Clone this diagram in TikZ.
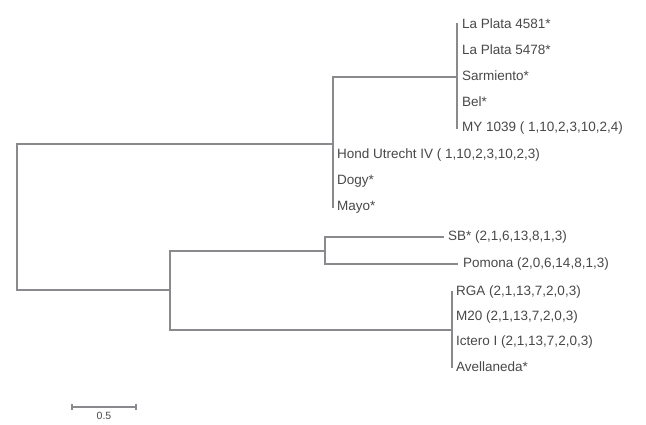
\documentclass[tikz,border=0pt]{standalone}
\usepackage{fontspec}
\setmainfont{Liberation Sans}
\usetikzlibrary{positioning,calc}

\definecolor{branchgray}{HTML}{8A8A8E}
\definecolor{labelgray}{HTML}{484848}

\tikzset{
  branch/.style={draw=branchgray, line width=2.4pt, line cap=rect},
  leaf/.style={inner sep=0pt, text=labelgray, font=\fontsize{13.5}{14}\selectfont, anchor=west},
}

\begin{document}
\begin{tikzpicture}[x=1pt, y=-1pt, node distance=26pt]
\useasboundingbox (0,0) rectangle (646,425);

					% inner nodes
					\coordinate (R) at (17,217);
					\coordinate (A) at (333,144);
					\coordinate (B) at (457,77);
					\coordinate (C) at (170,290);
					\coordinate (D) at (325,251);
					\coordinate (E) at (452,330);

					% tips
					\coordinate (t1) at (457,24);
					\coordinate[below = of t1] (t2);
					\coordinate[below = of t2] (t3);
					\coordinate[below = of t3] (t4);
					\coordinate[below = of t4] (t5);
					\coordinate (t6) at (333,155);
					\coordinate[below = of t6] (t7);
					\coordinate[below = of t7] (t8);
					\coordinate (t9) at (443,237);
					\coordinate (t10) at (457,264);
					\coordinate (t11) at (452,292);
					\coordinate[below = 25pt of t11] (t12);
					\coordinate[below = 25pt of t12] (t13);
					\coordinate[below = 25pt of t13] (t14);

					% labels
					\node[leaf] (lp4581) [right = 5pt of t1] {La Plata 4581*};
					\node[leaf] (lp5478) [right = 5pt of t2] {La Plata 5478*};
					\node[leaf] (sarm) [right = 5pt of t3] {Sarmiento*};
					\node[leaf] (bel) [right = 5pt of t4] {Bel*};
					\node[leaf] (my1039) [right = 5pt of t5] {MY 1039 ( 1,10,2,3,10,2,4)};
					\node[leaf] (hond) [right = 4pt of t6] {Hond Utrecht IV ( 1,10,2,3,10,2,3)};
					\node[leaf] (dogy) [right = 4pt of t7] {Dogy*};
					\node[leaf] (mayo) [right = 4pt of t8] {Mayo*};
					\node[leaf] (sb) [right = 5pt of t9] {SB* (2,1,6,13,8,1,3)};
					\node[leaf] (pomona) [right = 6pt of t10] {Pomona (2,0,6,14,8,1,3)};
					\node[leaf] (rga) [right = 4pt of t11] {RGA (2,1,13,7,2,0,3)};
					\node[leaf] (m20) [right = 4pt of t12] {M20 (2,1,13,7,2,0,3)};
					\node[leaf] (ictero) [right = 4pt of t13] {Ictero I (2,1,13,7,2,0,3)};
					\node[leaf] (avell) [right = 4pt of t14] {Avellaneda*};

					% branches
					\path[branch]
					(A) -| (R) |- (C)
					(B -| A) -- (t8)
					(B -| A) -- (B)
					(t1) -- (t5)
					(D |- t9) -- (D |- t10)
					(D |- t9) -- (t9)
					(D |- t10) -- (t10)
					(C |- D) -- (D)
					(C |- D) -- (C |- E)
					(C |- E) -- (E)
					(t11) -- (t14)
					;

					% scale bar
					\coordinate (s1) at (72,407);
					\coordinate (s2) at (136,407);
					\draw[branchgray, line width=1.8pt] (s1) -- (s2);
					\draw[branchgray, line width=1.8pt] ([yshift=-3pt]s1) -- ([yshift=3pt]s1);
					\draw[branchgray, line width=1.8pt] ([yshift=-3pt]s2) -- ([yshift=3pt]s2);
					\node[leaf, anchor=north, font=\fontsize{10.5}{11}\selectfont] (scale) at ([yshift=-5pt]$(s1)!0.5!(s2)$) {0.5};
\end{tikzpicture}
\end{document}
